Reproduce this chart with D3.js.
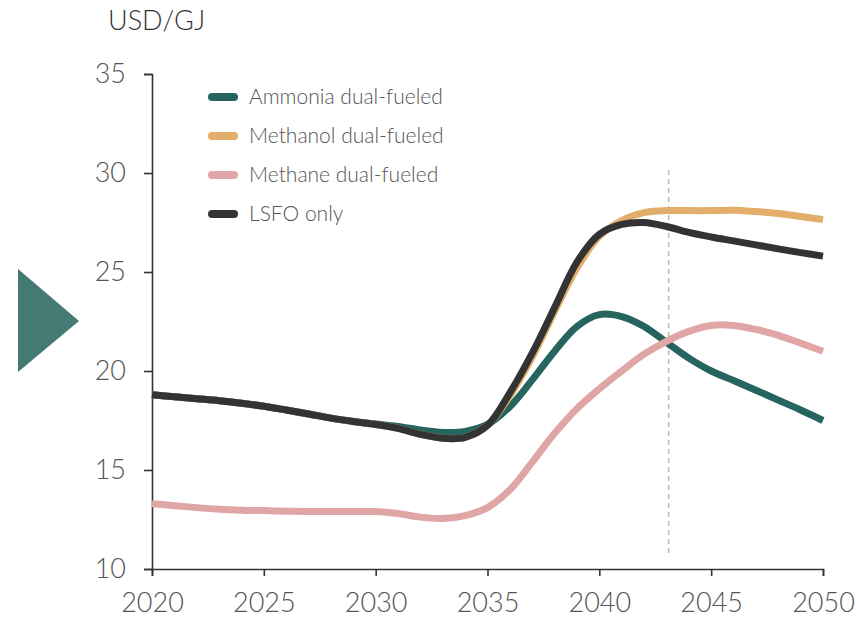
<!DOCTYPE html>
<html>
<head>
<meta charset="utf-8">
<script src="https://cdn.jsdelivr.net/npm/d3@7"></script>
<style>
  body { margin: 0; background: #fff; }
  svg { display: block; font-family: Lato, "Open Sans", sans-serif; }
  .tick text { font-family: Lato, "Open Sans", sans-serif; font-size: 27px; font-weight: 300; fill: #555; }
  .legend text { font-size: 21px; font-weight: 300; fill: #555; }
  .unit { font-size: 27px; font-weight: 300; fill: #333; }
</style>
</head>
<body>
<svg id="chart" width="856" height="620"></svg>
<script>
// years and series values (USD/GJ)
var years = d3.range(2020, 2051);

var ammonia = [18.8, 18.7, 18.6, 18.5, 18.37, 18.22, 18.03, 17.83, 17.62, 17.45, 17.32,
  17.2, 17.02, 16.9, 16.95, 17.3, 18.2, 19.55, 21.0, 22.25, 22.85,
  22.75, 22.25, 21.45, 20.65, 20.0, 19.52, 19.03, 18.53, 18.03, 17.5];

var methanol = [18.8, 18.7, 18.6, 18.5, 18.37, 18.22, 18.03, 17.83, 17.62, 17.45, 17.3,
  17.1, 16.8, 16.6, 16.65, 17.25, 18.75, 20.7, 23.0, 25.2, 26.8,
  27.6, 28.0, 28.1, 28.1, 28.1, 28.12, 28.05, 27.95, 27.8, 27.65];

var methane = [13.3, 13.2, 13.1, 13.02, 12.97, 12.95, 12.92, 12.9, 12.9, 12.9, 12.9,
  12.8, 12.62, 12.55, 12.7, 13.1, 14.0, 15.4, 16.85, 18.1, 19.1,
  20.0, 20.85, 21.5, 22.0, 22.3, 22.3, 22.1, 21.8, 21.4, 21.0];

var lsfo = [18.8, 18.7, 18.6, 18.5, 18.37, 18.22, 18.03, 17.83, 17.62, 17.45, 17.3,
  17.1, 16.8, 16.6, 16.65, 17.25, 18.9, 20.9, 23.2, 25.5, 26.9,
  27.4, 27.5, 27.3, 27.0, 26.77, 26.57, 26.37, 26.17, 25.98, 25.8];

var seriesNames = ["Ammonia dual-fueled", "Methanol dual-fueled", "Methane dual-fueled", "LSFO only"];
var seriesColors = ["#25645f", "#e3ae6c", "#e0a5a5", "#333333"];
var seriesValues = [ammonia, methanol, methane, lsfo];
var drawOrder = [0, 2, 1, 3];

var xTicks = [2020, 2025, 2030, 2035, 2040, 2045, 2050];
var yTicks = [10, 15, 20, 25, 30, 35];
var markerYear = 2043.1;
var markerTop = 30.15;

var svg = d3.select("#chart");

var x = d3.scaleLinear().domain([2020, 2050]).range([152, 823]);
var y = d3.scaleLinear().domain([10, 35]).range([569, 74]);

// marker triangle on the left
svg.append("path")
  .attr("d", "M18,269 L79,321 L18,372 Z")
  .attr("fill", "#457a74");

// unit label
svg.append("text")
  .attr("class", "unit")
  .attr("x", 108).attr("y", 30)
  .text("USD/GJ");

// axes
svg.append("g")
  .attr("transform", "translate(0," + y(10) + ")")
  .call(d3.axisBottom(x).tickValues(xTicks).tickFormat(d3.format("d")).tickSizeOuter(0).tickSize(7).tickPadding(17));

svg.append("g")
  .attr("transform", "translate(" + x(2020) + ",0)")
  .call(d3.axisLeft(y).tickValues(yTicks).tickSizeOuter(0).tickSize(8).tickPadding(18));

svg.selectAll(".domain").attr("stroke", "#333").attr("stroke-width", 1.6);
svg.selectAll(".tick line").attr("stroke", "#333").attr("stroke-width", 1.6);

// dashed vertical marker
svg.append("line")
  .attr("x1", x(markerYear)).attr("x2", x(markerYear))
  .attr("y1", y(markerTop)).attr("y2", y(10.65))
  .attr("stroke", "#bbb").attr("stroke-width", 1.5)
  .attr("stroke-dasharray", "5,4");

// lines
var line = d3.line()
  .x(function (d, i) { return x(years[i]); })
  .y(function (d) { return y(d); })
  .curve(d3.curveCatmullRom.alpha(0.5));

drawOrder.forEach(function (k) {
  svg.append("path")
    .datum(seriesValues[k])
    .attr("fill", "none")
    .attr("stroke", seriesColors[k])
    .attr("stroke-width", 7)
    .attr("stroke-linejoin", "round")
    .attr("d", line);
});

// legend
var legend = svg.append("g").attr("class", "legend");
seriesNames.forEach(function (name, i) {
  var ly = 97 + i * 39;
  legend.append("line")
    .attr("x1", 212).attr("x2", 234)
    .attr("y1", ly).attr("y2", ly)
    .attr("stroke", seriesColors[i])
    .attr("stroke-width", 8)
    .attr("stroke-linecap", "round");
  legend.append("text")
    .attr("x", 249).attr("y", ly + 7)
    .text(name);
});
</script>
</body>
</html>
